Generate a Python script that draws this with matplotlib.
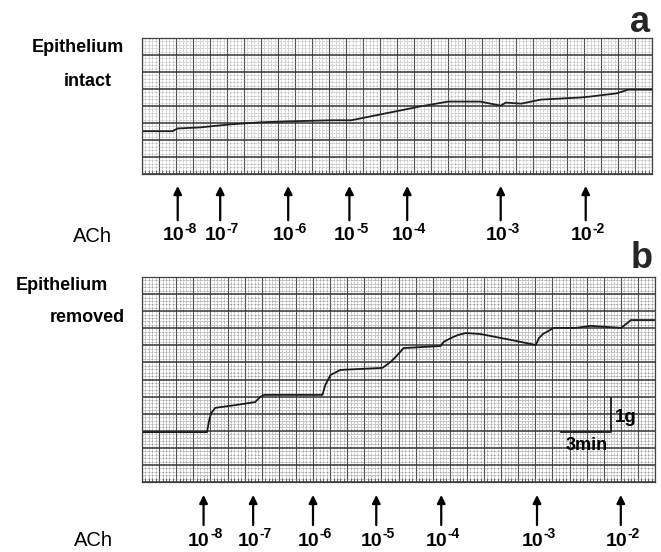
import numpy as np
import matplotlib.pyplot as plt
import matplotlib as mpl

mpl.rcParams['font.family'] = 'Liberation Sans'

W, H = 661, 552

# ---- data (x: minutes, y: grams) ----
exponents = ['-8', '-7', '-6', '-5', '-4', '-3', '-2']

# a: epithelium intact
trace_a_t = [0, 1.8, 2.1, 3.4, 5.2, 7.0, 8.7, 11.1, 12.3, 13.4, 14.6, 15.8, 16.4,
             18.0, 19.9, 21.1, 21.4, 22.3, 23.5, 25.8, 26.4, 27.9, 28.6, 30]
trace_a_g = [1.26, 1.26, 1.34, 1.37, 1.46, 1.52, 1.55, 1.58, 1.58, 1.69, 1.81, 1.93, 1.99,
             2.13, 2.13, 2.01, 2.10, 2.07, 2.19, 2.25, 2.28, 2.37, 2.48, 2.48]
dose_a_t = [2.1, 4.6, 8.6, 12.2, 15.6, 21.1, 26.1]

# b: epithelium removed
trace_b_t = [0, 3.8, 3.93, 4.04, 4.28, 5.45, 6.62, 6.91, 7.15, 10.55, 10.72, 11.02, 11.6,
             14.06, 14.53, 14.83, 15.3, 17.46, 17.64, 18.05, 18.46, 18.93, 19.8, 21.56,
             23.03, 23.21, 23.44, 24.08, 25.37, 26.25, 28.01, 28.3, 28.59, 30]
trace_b_g = [1.46, 1.46, 1.81, 2.01, 2.17, 2.25, 2.34, 2.49, 2.55, 2.55, 2.84, 3.13, 3.28,
             3.34, 3.51, 3.66, 3.92, 3.98, 4.10, 4.21, 4.30, 4.36, 4.33, 4.16,
             4.01, 4.21, 4.33, 4.51, 4.51, 4.57, 4.51, 4.62, 4.74, 4.74]
dose_b_t = [3.6, 6.5, 10.0, 13.7, 17.5, 23.1, 28.0]

fig = plt.figure(figsize=(W / 100, H / 100), dpi=100)


def paper(ax, n_min, n_g, minor_col):
    ax.set_xlim(0, n_min)
    ax.set_ylim(0, n_g)
    ax.set_xticks(np.arange(0, n_min + 1, 1))
    ax.set_yticks(np.arange(0, n_g + 0.01, 0.5))
    ax.set_xticks(np.arange(0, n_min, 0.2), minor=True)
    ax.set_yticks(np.arange(0, n_g, 0.1), minor=True)
    ax.grid(which='minor', color=minor_col, lw=0.5, ls=(0, (1, 1)))
    ax.grid(which='major', axis='x', color='0.3', lw=0.8)
    ax.grid(which='major', axis='y', color='0.2', lw=1.1)
    ax.set_axisbelow(True)
    ax.tick_params(which='both', length=0, labelbottom=False, labelleft=False)
    ax.tick_params(axis='x', which='minor', bottom=True, direction='in', length=3,
                   color='0.3', width=0.6)
    for s in ax.spines.values():
        s.set_color('0.25')
        s.set_linewidth(0.9)


def doses(ax, times, tip, tail, lab_y):
    for t, e in zip(times, exponents):
        ax.annotate('', xy=(t, tip), xytext=(t, tail),
                    xycoords=('data', 'axes fraction'), textcoords=('data', 'axes fraction'),
                    arrowprops=dict(arrowstyle='-|>', color='black', lw=1.6,
                                    mutation_scale=12, shrinkA=0, shrinkB=0),
                    annotation_clip=False)
        # "10" with a raised exponent
        ax.annotate('10', xy=(t, lab_y), xycoords=('data', 'axes fraction'),
                    xytext=(4.5, 0), textcoords='offset points', ha='right', va='center',
                    fontsize=14, fontweight='bold', annotation_clip=False)
        ax.annotate(e, xy=(t, lab_y), xycoords=('data', 'axes fraction'),
                    xytext=(4.8, 5), textcoords='offset points', ha='left', va='center',
                    fontsize=10, fontweight='bold', annotation_clip=False)


# ---- panel a ----
ax_a = fig.add_axes([142 / W, 1 - 174 / H, 510 / W, 136 / H])
paper(ax_a, 30, 4, '0.62')
ax_a.plot(trace_a_t, trace_a_g, color='0.12', lw=1.3)
doses(ax_a, dose_a_t, -0.088, -0.34, -0.455)

# ---- panel b ----
ax_b = fig.add_axes([142 / W, 1 - 482 / H, 513 / W, 205 / H])
paper(ax_b, 30, 6, '0.48')
ax_b.plot(trace_b_t, trace_b_g, color='0.1', lw=1.3)
doses(ax_b, dose_b_t, -0.063, -0.21, -0.288)

# scale bar: 3 min x 1 g
ax_b.plot([24.5, 27.45, 27.45], [1.45, 1.45, 2.45], color='0.1', lw=1.3)
ax_b.text(27.65, 1.88, '1g', ha='left', va='center', fontsize=13.5, fontweight='bold')
ax_b.text(26.0, 1.08, '3min', ha='center', va='center', fontsize=13, fontweight='bold')

# ---- labels ----
fig.text(78 / W, 1 - 48 / H, 'Epithelium', ha='center', va='center',
         fontsize=13, fontweight='bold')
fig.text(88 / W, 1 - 82 / H, 'intact', ha='center', va='center',
         fontsize=13, fontweight='bold')
fig.text(62 / W, 1 - 285 / H, 'Epithelium', ha='center', va='center',
         fontsize=13, fontweight='bold')
fig.text(87 / W, 1 - 318 / H, 'removed', ha='center', va='center',
         fontsize=13, fontweight='bold')
fig.text(92 / W, 1 - 237 / H, 'ACh', ha='center', va='center', fontsize=14.5)
fig.text(93 / W, 1 - 541 / H, 'ACh', ha='center', va='center', fontsize=14.5)
fig.text(640 / W, 1 - 22 / H, 'a', ha='center', va='center', fontsize=26,
         fontweight='bold', color='0.15')
fig.text(642 / W, 1 - 258 / H, 'b', ha='center', va='center', fontsize=26,
         fontweight='bold', color='0.15')

fig.savefig('out.png', dpi=100)
